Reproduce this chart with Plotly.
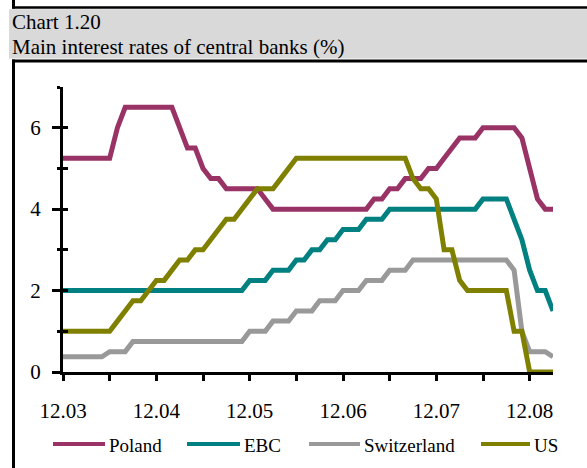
import plotly.graph_objects as go

# ---------------- data ----------------
# monthly observations, Dec 2003 .. Mar 2009
month_labels = []
for k in range(64):
    mm = (k + 11) % 12 + 1
    yy = 3 + (k + 11) // 12
    month_labels.append(f"{mm:02d}.{yy:02d}")

series_names = ["Poland", "EBC", "Switzerland", "US"]

poland = ([5.25] * 7 + [6.0] + [6.5] * 7 + [6.0] + [5.5] * 2 + [5.0] + [4.75] * 2 +
          [4.5] * 5 + [4.25] + [4.0] * 13 + [4.25] * 2 + [4.5] * 2 + [4.75] * 3 +
          [5.0] * 2 + [5.25] + [5.5] + [5.75] * 3 + [6.0] * 5 + [5.75] + [5.0] +
          [4.25] + [4.0] * 2)

ebc = ([2.0] * 24 + [2.25] * 3 + [2.5] * 3 + [2.75] * 2 + [3.0] * 2 + [3.25] * 2 +
       [3.5] * 3 + [3.75] * 3 + [4.0] * 12 + [4.25] * 4 + [3.75] + [3.25] + [2.5] +
       [2.0] * 2 + [1.5])

switzerland = ([0.375] * 6 + [0.5] * 3 + [0.75] * 15 + [1.0] * 3 + [1.25] * 3 +
               [1.5] * 3 + [1.75] * 3 + [2.0] * 3 + [2.25] * 3 + [2.5] * 3 +
               [2.75] * 13 + [2.5] + [1.0] + [0.5] * 3 + [0.375])

us = ([1.0] * 7 + [1.25] + [1.5] + [1.75] * 2 + [2.0] + [2.25] * 2 + [2.5] +
      [2.75] * 2 + [3.0] * 2 + [3.25] + [3.5] + [3.75] * 2 + [4.0] + [4.25] +
      [4.5] * 3 + [4.75] + [5.0] + [5.25] * 15 + [4.75] + [4.5] * 2 + [4.25] +
      [3.0] * 2 + [2.25] + [2.0] * 6 + [1.0] * 2 + [0.0] * 4)

y_major = [0, 2, 4, 6]
y_minor = [1, 3, 5, 7]
y_all = [0, 1, 2, 3, 4, 5, 6, 7]

colors = ["#993366", "#008080", "#999999", "#808000"]
values = [poland, ebc, switzerland, us]

# ---------------- layout geometry ----------------
W, H = 587, 468
L, R, T, B = 63, 34, 87, 96
PW, PH = W - L - R, H - T - B
FONT = "Liberation Serif"


def fx(px):
    return (px - L) / PW


def fy(py):
    return (H - B - py) / PH


x = list(range(len(month_labels)))
tickvals = [i for i in x if i % 6 == 0]
ticktext = [month_labels[i] if month_labels[i].startswith("12") else "" for i in tickvals]

fig = go.Figure()
for name, vals, col in zip(series_names, values, colors):
    fig.add_trace(go.Scatter(x=x, y=vals, name=name, mode="lines",
                             line=dict(color=col, width=5), showlegend=False,
                             hoverinfo="x+y+name"))

# invisible helper trace so the overlay axis (inside tick marks) is drawn
fig.add_trace(go.Scatter(x=x, y=poland, xaxis="x2", yaxis="y2", mode="lines",
                         line=dict(width=0), opacity=0, showlegend=False, hoverinfo="skip"))

shapes = [
    dict(type="rect", xref="paper", yref="paper", x0=fx(9), x1=fx(587), y0=fy(58.5), y1=fy(9.3),
         fillcolor="#d9d9d9", line=dict(width=0), layer="below"),
    dict(type="line", xref="paper", yref="paper", x0=fx(12), x1=fx(587), y0=fy(7.5), y1=fy(7.5),
         line=dict(color="black", width=2.5)),
    dict(type="line", xref="paper", yref="paper", x0=fx(13.5), x1=fx(13.5), y0=fy(0), y1=fy(8.5),
         line=dict(color="black", width=3)),
    dict(type="line", xref="paper", yref="paper", x0=fx(12), x1=fx(587), y0=fy(61), y1=fy(61),
         line=dict(color="black", width=3)),
    dict(type="line", xref="paper", yref="paper", x0=fx(13.5), x1=fx(13.5), y0=fy(59.5), y1=fy(468),
         line=dict(color="black", width=3)),
]

annotations = [
    dict(text="Chart 1.20", xref="paper", yref="paper", x=fx(10), y=fy(22), xanchor="left",
         yanchor="middle", showarrow=False, font=dict(family=FONT, size=21, color="black")),
    dict(text="Main interest rates of central banks (%)", xref="paper", yref="paper", x=fx(10),
         y=fy(47), xanchor="left", yanchor="middle", showarrow=False,
         font=dict(family=FONT, size=21, color="black")),
]

# manual legend (long line samples as in the original)
legend_pos = [(53, 105), (187, 240), (309, 360), (481, 530)]
LEG_Y = 444
for name, col, (a, b) in zip(series_names, colors, legend_pos):
    shapes.append(dict(type="line", xref="paper", yref="paper", x0=fx(a), x1=fx(b),
                       y0=fy(LEG_Y), y1=fy(LEG_Y), line=dict(color=col, width=4)))
    annotations.append(dict(text=name, xref="paper", yref="paper", x=fx(b + 2), y=fy(LEG_Y + 1),
                            xanchor="left", yanchor="middle", showarrow=False,
                            font=dict(family=FONT, size=19, color="black")))

fig.update_layout(
    width=W, height=H,
    margin=dict(l=L, r=R, t=T, b=B, pad=0),
    paper_bgcolor="white", plot_bgcolor="white",
    font=dict(family=FONT, size=21, color="black"),
    showlegend=False,
    shapes=shapes,
    annotations=annotations,
    xaxis=dict(range=[0, 63], tickmode="array", tickvals=tickvals, ticktext=ticktext,
               ticks="outside", ticklen=6, tickwidth=3, tickcolor="black",
               showline=True, linewidth=3, linecolor="black", showgrid=False, zeroline=False,
               tickfont=dict(family=FONT, size=21, color="black"), ticklabelstandoff=12),
    yaxis=dict(range=[0, 7], tickmode="array", tickvals=y_major, ticktext=[str(v) for v in y_major],
               ticks="outside", ticklen=8, tickwidth=3, tickcolor="black",
               minor=dict(tickmode="array", tickvals=y_minor, ticks="outside", ticklen=3,
                          tickwidth=3, tickcolor="black"),
               showline=True, linewidth=3, linecolor="black", showgrid=False, zeroline=False,
               tickfont=dict(family=FONT, size=21, color="black"), ticklabelstandoff=7),
    xaxis2=dict(overlaying="x", anchor="y2", range=[0, 63], visible=False),
    yaxis2=dict(overlaying="y", anchor="x2", side="left", range=[0, 7], tickmode="array",
                tickvals=y_all, ticks="inside", ticklen=5, tickwidth=3, tickcolor="black",
                showticklabels=False, showline=False, showgrid=False, zeroline=False),
)

fig.write_html("out.html", config={"displayModeBar": False},
               post_script="document.body.style.margin='0px';document.body.style.overflow='hidden';")
